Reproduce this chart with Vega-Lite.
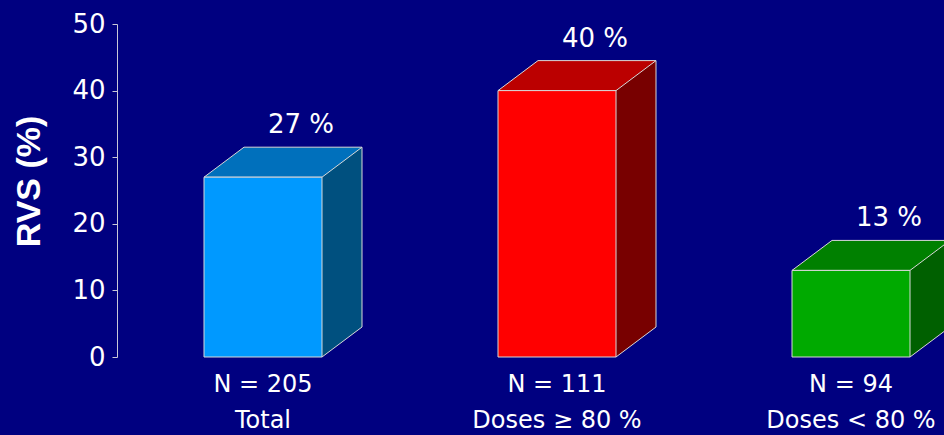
{
  "$schema": "https://vega.github.io/schema/vega-lite/v6.json",
  "background": "#000080",
  "autosize": {"type": "none"},
  "padding": {"left": 117, "top": 24, "right": 0, "bottom": 78},
  "width": 827,
  "height": 333,
  "config": {"view": {"stroke": null}},
  "data": {
    "values": [
      {"group": "Total", "n": "N = 205", "rvs": 27, "label": "27 %"},
      {"group": "Doses ≥ 80 %", "n": "N = 111", "rvs": 40, "label": "40 %"},
      {"group": "Doses < 80 %", "n": "N = 94", "rvs": 13, "label": "13 %"}
    ]
  },
  "encoding": {
    "x": {
      "field": "group",
      "type": "nominal",
      "sort": null,
      "scale": {"range": [-1, 881], "paddingInner": 0, "paddingOuter": 0},
      "axis": null
    },
    "y": {
      "field": "rvs",
      "type": "quantitative",
      "scale": {"domain": [0, 50]},
      "axis": {
        "values": [0, 10, 20, 30, 40, 50],
        "grid": false,
        "title": "RVS (%)",
        "titleFont": "Liberation Sans",
        "titleFontSize": 34,
        "titleFontWeight": "bold",
        "titleColor": "#FFFFFF",
        "titleAngle": -90,
        "titleX": -88,
        "titleY": 157,
        "titleAlign": "center",
        "titleBaseline": "middle",
        "labelFont": "DejaVu Sans",
        "labelFontSize": 26,
        "labelColor": "#FFFFFF",
        "labelPadding": 7,
        "tickSize": 5,
        "tickColor": "#C8C8D8",
        "domainColor": "#C8C8D8",
        "labelFlush": false,
        "labelOverlap": false
      }
    }
  },
  "layer": [
    {
      "mark": {"type": "bar", "width": 40, "xOffset": 79, "yOffset": -30},
      "encoding": {
        "y2": {"datum": 0},
        "fill": {
          "field": "group",
          "type": "nominal",
          "scale": {"domain": ["Total", "Doses ≥ 80 %", "Doses < 80 %"], "range": ["#00507F", "#780000", "#006000"]},
          "legend": null
        }
      }
    },
    {
      "mark": {"type": "point", "shape": "M 57.67 1 L 100.5 1 L 100.5 -31.125 Z", "size": 4, "filled": true, "fill": "#000080", "opacity": 1, "strokeWidth": 0},
      "encoding": {"y": {"datum": 0, "type": "quantitative"}}
    },
    {
      "mark": {"type": "point", "shape": "M 59 0 L 99 -30", "size": 4, "filled": false, "stroke": "#D8D8D8", "strokeWidth": 1, "opacity": 1},
      "encoding": {"y": {"datum": 0, "type": "quantitative"}}
    },
    {
      "mark": {"type": "rule", "xOffset": 99, "yOffset": -30, "y2Offset": -30, "color": "#D8D8D8", "strokeWidth": 1},
      "encoding": {"y2": {"datum": 0}}
    },
    {
      "mark": {"type": "point", "shape": "M -59 0 L 59 0 L 99 -30 L -19 -30 Z", "size": 4, "filled": true, "stroke": "#D8D8D8", "strokeWidth": 1, "opacity": 1},
      "encoding": {
        "fill": {
          "field": "group",
          "type": "nominal",
          "scale": {"domain": ["Total", "Doses ≥ 80 %", "Doses < 80 %"], "range": ["#0070BC", "#BB0000", "#008000"]},
          "legend": null
        }
      }
    },
    {
      "mark": {"type": "bar", "width": 118, "stroke": "#D8D8D8", "strokeWidth": 1},
      "encoding": {
        "y2": {"datum": 0},
        "fill": {
          "field": "group",
          "type": "nominal",
          "scale": {"domain": ["Total", "Doses ≥ 80 %", "Doses < 80 %"], "range": ["#0099FF", "#FF0000", "#00AA00"]},
          "legend": null
        }
      }
    },
    {
      "mark": {"type": "text", "dx": 38, "dy": -44, "baseline": "alphabetic", "font": "DejaVu Sans", "fontSize": 26, "color": "#FFFFFF"},
      "encoding": {"text": {"field": "label"}}
    },
    {
      "mark": {"type": "text", "dy": 35, "baseline": "alphabetic", "font": "DejaVu Sans", "fontSize": 24, "color": "#FFFFFF"},
      "encoding": {"y": {"datum": 0, "type": "quantitative"}, "text": {"field": "n"}}
    },
    {
      "mark": {"type": "text", "dy": 71, "baseline": "alphabetic", "font": "DejaVu Sans", "fontSize": 24, "color": "#FFFFFF"},
      "encoding": {"y": {"datum": 0, "type": "quantitative"}, "text": {"field": "group"}}
    }
  ],
  "resolve": {"scale": {"fill": "independent"}}
}
